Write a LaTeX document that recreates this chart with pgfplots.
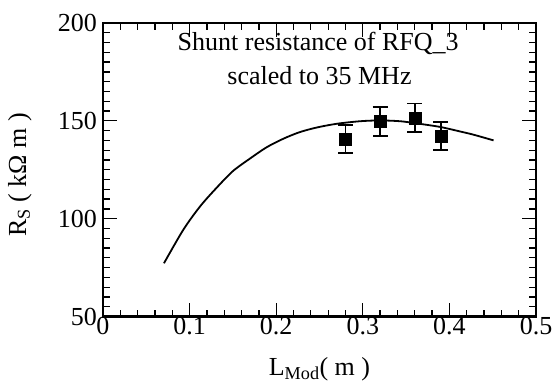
\documentclass[border=0pt]{standalone}
\usepackage{fontspec}
\setmainfont{Liberation Serif}
\usepackage{pgfplots}
\pgfplotsset{compat=1.18}
\begin{document}
\fontsize{26}{33}\selectfont
\begin{tikzpicture}
\begin{axis}[
  scale only axis, width=433pt, height=293.5pt,
  xmin=0, xmax=0.5, ymin=50, ymax=200,
  xtick={0,0.1,0.2,0.3,0.4,0.5},
  ytick={50,100,150,200},
  minor x tick num=4, minor y tick num=9,
  tick align=inside, xtick pos=both, ytick pos=both,
  major tick length=14pt, minor tick length=7pt,
  axis line style={line width=2.6pt},
  every tick/.style={black, line width=1.3pt},
  /pgf/number format/assume math mode=true,
  tick label style={font=\fontsize{26}{30}\selectfont},
  xticklabel style={inner sep=1pt},
  yticklabel style={inner sep=6pt},
  xlabel={L\textsubscript{Mod}( m )},
  ylabel={R\textsubscript{S} ( kΩ m )},
  label style={font=\fontsize{26}{30}\selectfont},
  xlabel style={at={(axis description cs:0.5,-0.2)}, anchor=base},
  ylabel style={at={(axis description cs:-0.192,0.482)}, anchor=center},
]
\addplot[smooth, line width=1.8pt] coordinates {
(0.0704,77.2) (0.0927,94.3) (0.112,106.2) (0.131,115.7) (0.150,124.3)
(0.170,130.8) (0.189,136.5) (0.208,140.8) (0.227,144.2) (0.247,146.6)
(0.270,148.5) (0.297,149.8) (0.320,150.2) (0.343,149.8) (0.362,148.7)
(0.389,146.9) (0.412,144.6) (0.428,142.9) (0.451,140.0)
};
\addplot[only marks, mark=square*, mark size=6pt,
  error bars/.cd, y dir=both, y explicit,
  error bar style={line width=1.8pt},
  error mark options={rotate=90, line width=1.8pt, mark size=7.5pt}]
coordinates {
(0.28,140.7) +- (0,7.1)
(0.32,149.7) +- (0,7.5)
(0.36,151.6) +- (0,7.25)
(0.39,142.1) +- (0,7.1)
};
\node[anchor=base] at (axis description cs:0.497,0.905) {Shunt resistance of RFQ\_3};
\node[anchor=base] at (axis description cs:0.5,0.789) {scaled to 35 MHz};
\end{axis}
\pgfresetboundingbox
\path (-103pt,-68.5pt) rectangle (450pt,316.5pt);
\end{tikzpicture}
\end{document}
